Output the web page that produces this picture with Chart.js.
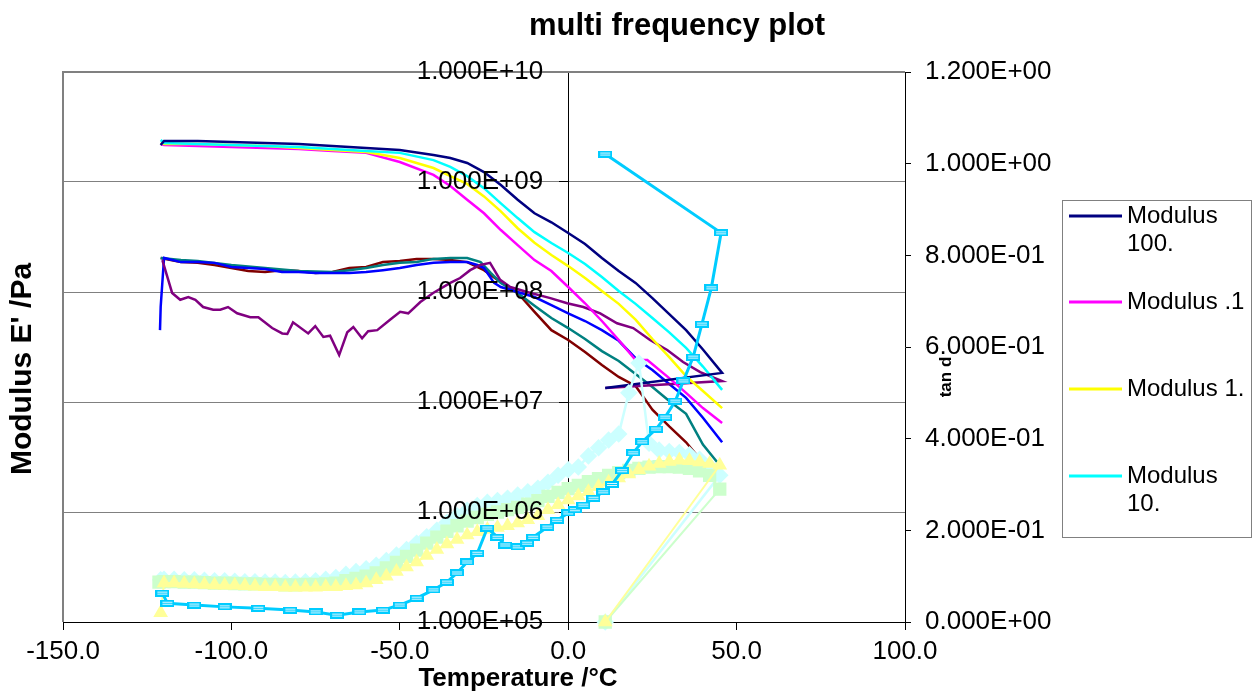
<!DOCTYPE html>
<html lang="en">
<head>
  <meta charset="UTF-8">
  <title>multi frequency plot</title>
  <script src="https://cdn.jsdelivr.net/npm/chart.js"></script>
  <style>
    html, body { margin: 0; padding: 0; background: #fff; }
    #wrap { width: 1258px; height: 693px; position: relative; }
  </style>
</head>
<body>
  <div id="wrap"><canvas id="chart"></canvas></div>

  <script>
    // ---- data ----
    const leftTicks = [1e5, 1e6, 1e7, 1e8, 1e9, 1e10];

    // storage modulus curves (Pa)
    const tMod = [-121, -120, -110, -100, -90, -80, -70, -60, -50, -40, -35, -30, -25, -20,
                  -15, -10, -5, 0, 5, 10, 15, 20, 25, 30, 35, 40, 45.7];
    const tE100 = [...tMod, 11];
    const e100 = [2.17e9, 2.36e9, 2.36e9, 2.31e9, 2.26e9, 2.21e9, 2.12e9, 2.04e9, 1.95e9, 1.76e9,
                  1.65e9, 1.49e9, 1.23e9, 9.4e8, 6.9e8, 5.2e8, 4.3e8, 3.44e8, 2.73e8, 2.04e8,
                  1.55e8, 1.21e8, 8.8e7, 6.3e7, 4.5e7, 3.0e7, 1.84e7, 1.34e7];
    const e10 = [2.41e9, 2.26e9, 2.21e9, 2.17e9, 2.12e9, 2.08e9, 2.0e9, 1.91e9, 1.84e9, 1.58e9,
                 1.37e9, 1.13e9, 8.8e8, 6.4e8, 4.7e8, 3.5e8, 2.79e8, 2.26e8, 1.8e8, 1.37e8,
                 1.02e8, 7.8e7, 5.8e7, 4.3e7, 3.1e7, 2.1e7, 1.29e7];
    const e1 = [2.26e9, 2.21e9, 2.21e9, 2.17e9, 2.12e9, 2.04e9, 1.95e9, 1.87e9, 1.65e9, 1.34e9,
                1.13e9, 9.6e8, 7.4e8, 5.4e8, 3.8e8, 2.8e8, 2.17e8, 1.72e8, 1.34e8, 1.02e8,
                7.8e7, 5.6e7, 3.74e7, 2.56e7, 1.72e7, 1.26e7, 8.8e6];
    const tE01 = [-121, -120, -110, -100, -90, -80, -70, -60, -50, -40, -35, -30, -25, -20,
                  -15, -10, -5, 0, 5, 10, 15, 20, 23.5, 30, 35, 40, 45.7];
    const e01 = [2.21e9, 2.17e9, 2.12e9, 2.08e9, 2.04e9, 2.0e9, 1.91e9, 1.84e9, 1.52e9, 1.16e9,
                 9.2e8, 6.9e8, 5.2e8, 3.66e8, 2.67e8, 1.95e8, 1.55e8, 1.11e8, 7.9e7, 5.45e7,
                 3.66e7, 2.41e7, 2.41e7, 1.65e7, 1.21e7, 8.8e6, 6.44e6];

    // the other four curves on the left axis
    const tPurple = [-120.5, -117.6, -115.2, -112.8, -110.7, -108.4, -105.4, -103.3, -101, -98.3,
                     -94.4, -92, -87.9, -84.9, -83.4, -81.7, -77.2, -75.1, -72.7, -70.7,
                     -68, -65.6, -63.8, -61.2, -59.4, -56.7, -52.9, -49.9, -47.5, -43.9,
                     -40.1, -35, -32.1, -29.1, -26.1, -23.2, -20.2, -17.2, -12.2, -5.3,
                     -0.3, 4.5, 9.5, 14.5, 19.3, 24.3, 29.4, 34.1, 39.2, 45.7, 11];
    const ePurple = [1.95e8, 9.8e7, 8.5e7, 9.0e7, 8.5e7, 7.3e7, 6.9e7, 6.9e7, 7.3e7, 6.4e7,
                     5.9e7, 5.9e7, 4.7e7, 4.2e7, 4.15e7, 5.3e7, 4.2e7, 4.9e7, 3.9e7, 4.0e7,
                     2.67e7, 4.3e7, 4.8e7, 3.8e7, 4.4e7, 4.5e7, 5.6e7, 6.6e7, 6.4e7, 8.1e7,
                     9.8e7, 1.21e8, 1.34e8, 1.58e8, 1.76e8, 1.84e8, 1.29e8, 1.11e8, 1.0e8, 8.8e7,
                     7.9e7, 7.3e7, 6.4e7, 5.2e7, 4.7e7, 3.66e7, 2.97e7, 2.31e7, 1.87e7, 1.55e7, 1.34e7];
    const tBlue = [-121.2, -121, -120, -115, -110, -105, -100, -95, -90, -85, -80, -75, -70,
                   -65, -60, -55, -50, -45, -40, -35, -30, -27, -25, -22, -20,
                   -15, -10, -5, 0, 5, 10, 15, 20, 25, 30, 35, 40, 45.7];
    const eBlue = [4.5e7, 7.3e7, 2.04e8, 1.87e8, 1.87e8, 1.84e8, 1.69e8, 1.65e8, 1.62e8, 1.52e8, 1.52e8, 1.49e8, 1.49e8,
                   1.49e8, 1.52e8, 1.58e8, 1.65e8, 1.76e8, 1.84e8, 1.87e8, 1.87e8, 1.76e8, 1.65e8, 1.21e8, 1.11e8,
                   1.0e8, 9.0e7, 7.6e7, 6.4e7, 5.45e7, 4.5e7, 3.6e7, 2.5e7, 1.95e7, 1.46e7, 1.09e7, 7.2e6, 4.3e6];
    const tTeal = [-121, -115, -110, -100, -90, -80, -70, -65, -60, -55,
                   -50, -45, -40, -35, -30, -26, -23, -20, -15, -10,
                   -5, 0, 5, 10, 15, 20, 25, 30, 35, 40, 44.2];
    const eTeal = [2.04e8, 1.95e8, 1.91e8, 1.76e8, 1.65e8, 1.55e8, 1.52e8, 1.58e8, 1.65e8, 1.76e8,
                   1.84e8, 1.87e8, 2.0e8, 2.04e8, 2.04e8, 1.87e8, 1.49e8, 1.21e8, 9.8e7, 7.5e7,
                   5.8e7, 4.7e7, 3.74e7, 2.9e7, 2.36e7, 1.8e7, 1.37e7, 1.02e7, 7.8e6, 4.1e6, 2.85e6];
    const tRed = [-121, -115, -110, -105, -100, -95, -90, -85, -80, -75,
                  -70, -65, -60, -55, -50, -45, -40, -35, -30, -25,
                  -20, -15, -10, -5, 0, 5, 10, 15, 20, 23, 25, 30, 35, 38.5];
    const eRed = [2.04e8, 1.87e8, 1.84e8, 1.76e8, 1.65e8, 1.55e8, 1.52e8, 1.58e8, 1.55e8, 1.49e8,
                  1.52e8, 1.65e8, 1.69e8, 1.87e8, 1.91e8, 2.0e8, 2.0e8, 1.95e8, 1.87e8, 1.58e8,
                  1.23e8, 9.8e7, 6.6e7, 4.5e7, 3.66e7, 2.85e7, 2.17e7, 1.69e7, 1.4e7, 1.04e7,
                  8.5e6, 6.0e6, 4.3e6, 3.2e6];

    // tan d (right axis)
    const tTan = [-121,
      -120, -117, -114, -111, -108, -105, -102, -99, -96, -93,
      -90, -87, -84, -81, -78, -75, -72, -69, -66, -63,
      -60, -57, -54, -51, -48, -45, -42, -39, -36, -33,
      -30, -27, -24, -21, -18, -15, -12, -9, -6, -3,
      0, 3, 6, 9, 12, 15, 18, 21, 24, 27,
      30, 33, 36, 39, 42, 45,
      11];
    const tanYellow = [0.02,
      0.085, 0.085, 0.084, 0.083, 0.082, 0.081, 0.080, 0.080, 0.079, 0.078,
      0.077, 0.077, 0.076, 0.076, 0.076, 0.076, 0.077, 0.077, 0.079, 0.081,
      0.085, 0.092, 0.100, 0.110, 0.120, 0.131, 0.145, 0.158, 0.170, 0.180,
      0.190, 0.197, 0.202, 0.206, 0.210, 0.216, 0.223, 0.232, 0.245, 0.256,
      0.266, 0.275, 0.284, 0.295, 0.305, 0.314, 0.323, 0.332, 0.340, 0.346,
      0.350, 0.353, 0.352, 0.349, 0.346, 0.342,
      0];
    const tanGreen = [0.087,
      0.088, 0.088, 0.087, 0.087, 0.086, 0.085, 0.085, 0.084, 0.083, 0.083,
      0.082, 0.082, 0.081, 0.081, 0.082, 0.082, 0.083, 0.085, 0.090, 0.095,
      0.100, 0.107, 0.118, 0.130, 0.143, 0.157, 0.172, 0.185, 0.198, 0.210,
      0.220, 0.228, 0.235, 0.240, 0.245, 0.250, 0.257, 0.265, 0.274, 0.283,
      0.291, 0.298, 0.306, 0.313, 0.320, 0.326, 0.331, 0.335, 0.338, 0.339,
      0.339, 0.338, 0.335, 0.330, 0.320, 0.290,
      0];
    const tanLight = [0.092,
      0.093, 0.093, 0.092, 0.092, 0.091, 0.090, 0.090, 0.089, 0.088, 0.088,
      0.087, 0.087, 0.086, 0.087, 0.088, 0.090, 0.093, 0.097, 0.104, 0.110,
      0.116, 0.124, 0.134, 0.146, 0.158, 0.172, 0.186, 0.200, 0.217, 0.232,
      0.244, 0.254, 0.261, 0.265, 0.270, 0.277, 0.284, 0.292, 0.305, 0.320,
      0.332, 0.338, 0.362, 0.380, 0.397, 0.410, 0.500, 0.565, 0.390, 0.375,
      0.372, 0.370, 0.365, 0.355, 0.340, 0.320,
      0];
    const tCyan = [-120.5, -119, -111, -102, -92, -82.5, -75, -68.6, -62, -55,
                   -50, -45, -40, -36, -33, -30, -27, -24, -21, -18.7,
                   -15, -12.2, -10.4, -6.2, -3.3, 0, 2, 4.5, 7.5, 10.4,
                   13, 16, 19.3, 22, 26.1, 28.8, 31.8, 34.2, 37.1, 39.7,
                   42.5, 45.4, 11];
    const tanCyan = [0.063, 0.041, 0.037, 0.033, 0.030, 0.026, 0.022, 0.015, 0.022, 0.026,
                     0.037, 0.052, 0.070, 0.087, 0.107, 0.131, 0.150, 0.205, 0.185, 0.168,
                     0.164, 0.172, 0.185, 0.207, 0.222, 0.238, 0.245, 0.255, 0.270, 0.284,
                     0.300, 0.330, 0.369, 0.393, 0.421, 0.447, 0.482, 0.526, 0.578, 0.650,
                     0.729, 0.849, 1.021];

    const legendRows = [['Modulus', '100.'], ['Modulus .1'], ['Modulus 1.'], ['Modulus', '10.']];

    // ---- helpers ----
    const FONT = "'Liberation Sans', Arial, Helvetica, sans-serif";

    function sci(v) {
      const parts = Number(v).toExponential(3).split('e');
      const n = parseInt(parts[1], 10);
      return parts[0] + 'E' + (n < 0 ? '-' : '+') + String(Math.abs(n)).padStart(2, '0');
    }

    function pts(ts, vs) {
      return ts.map((t, i) => ({ x: t, y: vs[i] }));
    }

    // small boxed dash marker like the original
    const dashMark = document.createElement('canvas');
    dashMark.width = 14; dashMark.height = 7;
    (function () {
      const c = dashMark.getContext('2d');
      c.fillStyle = '#00CCFF'; c.fillRect(0, 0, 14, 7);
      c.fillStyle = '#DDF7FF'; c.fillRect(2, 2, 10, 3);
      c.fillStyle = '#00CCFF'; c.fillRect(2, 3, 10, 1);
    })();

    function lineSet(label, data, color, axis) {
      return {
        label, data, yAxisID: axis || 'y',
        borderColor: color, backgroundColor: color,
        borderWidth: 2.5, pointRadius: 0, tension: 0, fill: false
      };
    }

    const datasets = [
      Object.assign(lineSet('tan d 10 Hz', pts(tCyan, tanCyan), '#00CCFF', 'y2'),
        { borderWidth: 3, pointRadius: 5, pointStyle: dashMark, clip: 20 }),
      Object.assign(lineSet('tan d 1', pts(tTan, tanYellow), '#FFFF99', 'y2'),
        { borderWidth: 2, pointRadius: 6.5, pointStyle: 'triangle', clip: 20 }),
      Object.assign(lineSet('tan d .1', pts([-121.5, ...tTan.slice(1)], tanGreen), '#CCFFCC', 'y2'),
        { borderWidth: 2, pointRadius: 8, pointStyle: 'rect', clip: 20 }),
      Object.assign(lineSet('tan d 100', pts(tTan, tanLight), '#CCFFFF', 'y2'),
        { borderWidth: 2.5, pointRadius: 7, pointStyle: 'rectRot', clip: 20 }),
      lineSet('Modulus 100.', pts(tE100, e100), '#000080'),
      lineSet('Modulus 10.', pts(tMod, e10), '#00FFFF'),
      lineSet('Modulus 1.', pts(tMod, e1), '#FFFF00'),
      lineSet('Modulus .1', pts(tE01, e01), '#FF00FF'),
      lineSet('Loss 100.', pts(tPurple, ePurple), '#800080'),
      lineSet('Loss 10.', pts(tBlue, eBlue), '#0000FF'),
      lineSet('Loss 1.', pts(tTeal, eTeal), '#008080'),
      lineSet('Loss .1', pts(tRed, eRed), '#800000')
    ];
    const legendIdx = [4, 7, 6, 5];

    const decor = {
      id: 'decor',
      beforeDraw(chart) {
        const ctx = chart.ctx;
        ctx.save();
        ctx.fillStyle = '#fff';
        ctx.fillRect(0, 0, chart.width, chart.height);
        ctx.restore();
      },
      beforeDatasetsDraw(chart) {
        const { ctx, chartArea: a } = chart;
        ctx.save();
        ctx.strokeStyle = '#808080';
        ctx.lineWidth = 2;
        ctx.beginPath();
        ctx.moveTo(a.left, a.bottom);
        ctx.lineTo(a.left, a.top);
        ctx.lineTo(a.right, a.top);
        ctx.stroke();
        ctx.restore();
      },
      afterDatasetsDraw(chart) {
        const { ctx, scales } = chart;
        const x0 = scales.x.getPixelForValue(0);
        ctx.save();
        ctx.fillStyle = '#000';

        // left axis labels sit at the x = 0 crossing
        ctx.font = '26px ' + FONT;
        ctx.textAlign = 'right';
        ctx.textBaseline = 'middle';
        leftTicks.forEach(v => ctx.fillText(sci(v), x0 - 25, scales.y.getPixelForValue(v)));

        // titles
        ctx.textAlign = 'center';
        ctx.font = 'bold 31px ' + FONT;
        ctx.fillText('multi frequency plot', 677, 26);
        ctx.font = 'bold 26px ' + FONT;
        ctx.fillText('Temperature /°C', 518, 679);

        ctx.save();
        ctx.translate(23, 369);
        ctx.rotate(-Math.PI / 2);
        ctx.font = 'bold 30px ' + FONT;
        ctx.fillText("Modulus E' /Pa", 0, 0);
        ctx.restore();

        ctx.save();
        ctx.translate(946, 377);
        ctx.rotate(-Math.PI / 2);
        ctx.font = 'bold 17px ' + FONT;
        ctx.fillText('tan d', 0, 0);
        ctx.restore();

        // legend
        ctx.strokeStyle = '#808080';
        ctx.lineWidth = 1;
        ctx.strokeRect(1062.5, 200.5, 189, 337);
        const rowY = [216, 302, 389, 476];
        ctx.font = '24px ' + FONT;
        ctx.textAlign = 'left';
        legendRows.forEach((rows, i) => {
          const ds = chart.data.datasets[legendIdx[i]];
          ctx.strokeStyle = ds.borderColor;
          ctx.lineWidth = 3;
          ctx.beginPath();
          ctx.moveTo(1069, rowY[i]);
          ctx.lineTo(1122, rowY[i]);
          ctx.stroke();
          rows.forEach((t, j) => ctx.fillText(t, 1127, rowY[i] + j * 28));
        });
        ctx.restore();
      }
    };

    new Chart(document.getElementById('chart'), {
      type: 'line',
      data: { datasets },
      plugins: [decor],
      options: {
        responsive: true,
        maintainAspectRatio: false,
        devicePixelRatio: 1,
        animation: false,
        events: [],
        layout: { padding: { left: 63, top: 72, right: 0, bottom: 0 } },
        plugins: { legend: { display: false }, tooltip: { enabled: false } },
        scales: {
          x: {
            type: 'linear', position: 'bottom', min: -150, max: 100,
            ticks: { stepSize: 50, callback: v => Number(v).toFixed(1), color: '#000',
                     font: { family: FONT, size: 26 }, padding: 6, maxRotation: 0 },
            grid: { drawOnChartArea: false, tickLength: 8, tickColor: '#000' },
            border: { color: '#000', width: 1 },
            afterFit(s) { s.height = 71; }
          },
          y: {
            type: 'logarithmic', position: { x: 0 }, min: 1e5, max: 1e10,
            afterBuildTicks(s) { s.ticks = leftTicks.map(v => ({ value: v })); },
            ticks: { display: false },
            grid: { color: '#808080', lineWidth: 1, tickColor: '#000', tickLength: 9 },
            border: { color: '#000', width: 1 }
          },
          y2: {
            type: 'linear', position: 'right', min: 0, max: 1.2,
            ticks: { stepSize: 0.2, callback: v => sci(v), color: '#000',
                     font: { family: FONT, size: 26 }, padding: 14 },
            grid: { drawOnChartArea: false, tickLength: 6, tickColor: '#000' },
            border: { color: '#000', width: 1 },
            afterFit(s) { s.width = 353; }
          }
        }
      }
    });
  </script>
</body>
</html>
